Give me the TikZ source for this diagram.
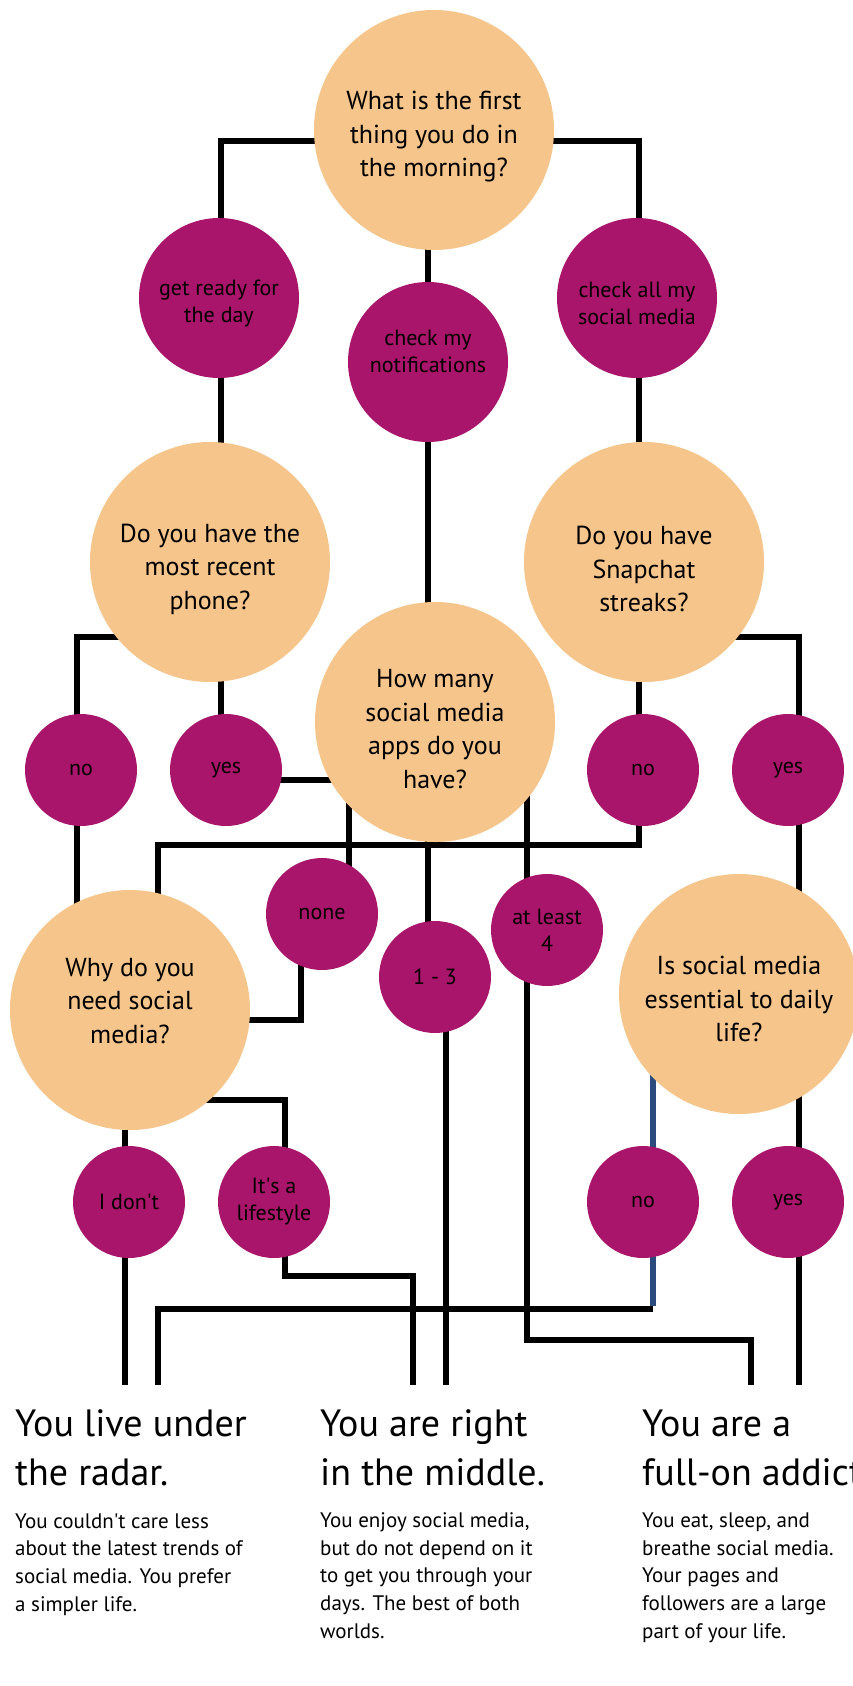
\documentclass[tikz,border=0pt]{standalone}
\usepackage{fontspec}
\setmainfont{PT Sans}
\usetikzlibrary{calc}

\definecolor{peach}{HTML}{F5C58B}
\definecolor{plum}{HTML}{A8156A}
\definecolor{navy}{HTML}{2B4A7E}

\pgfdeclarelayer{lines}
\pgfsetlayers{lines,main}

\tikzset{
  question/.style={circle,fill=peach,minimum size=240pt,inner sep=0pt},
  qtext/.style={align=center,inner sep=0pt,yshift=-7pt,
    font=\fontsize{26}{33.5}\selectfont},
  answer/.style={circle,fill=plum,minimum size=112pt,inner sep=0pt,align=center,
    font=\fontsize{22}{27}\selectfont},
  biganswer/.style={answer,minimum size=160pt},
  atext/.style={align=center,inner sep=0pt,font=\fontsize{22}{27}\selectfont},
  link/.style={line width=6pt},
  headline/.style={anchor=base west,align=left,inner sep=0pt,
    font=\fontsize{38}{48.5}\selectfont},
  blurb/.style={anchor=base west,align=left,inner sep=0pt,
    font=\fontsize{21}{27.6}\selectfont},
}
\newcommand{\apos}{\textquotesingle}

\begin{document}
\begin{tikzpicture}[x=1pt,y=-1pt]
\useasboundingbox (0,0) rectangle (853,1686);
% questions
\node[question,label={[qtext]center:{What is the first\\thing you do in\\the morning?}}] (q1) at (434,130) {};
\node[question,label={[qtext]center:{Do you have the\\most recent\\phone?}}] (q2) at (210,562) {};
\node[question,label={[qtext]center:{Do you have\\Snapchat\\streaks?}}] (q3) at (644,562) {};
\node[question,label={[qtext]center:{How many\\social media\\apps do you\\have?}}] (q4) at (435,722) {};
\node[question,label={[qtext,yshift=16pt]center:{Why do you\\need social\\media?}}] (q5) at (130,1010) {};
\node[question,label={[qtext,yshift=2pt]center:{Is social media\\essential to daily\\life?}}] (q6) at (739,994) {};
% answers
\node[biganswer,label={[atext,yshift=-5pt]center:{get ready for\\the day}}] (gr) at (219,298) {};
\node[biganswer,label={[atext,yshift=11pt]center:{check my\\notifications}}] (cm) at (428,362) {};
\node[biganswer,label={[atext,yshift=-5pt]center:{check all my\\social media}}] (ca) at (637,298) {};
\node[answer] (nl) at (81,770) {no};
\node[answer] (yl) at (226,770) {yes};
\node[answer] (nr) at (643,770) {no};
\node[answer] (yr) at (788,770) {yes};
\node[answer] (none) at (322,914) {none};
\node[answer] (ot) at (435,977) {1 - 3};
\node[answer] (al) at (547,930) {at least\\4};
\node[answer] (id) at (129,1202) {I don\apos t};
\node[answer] (ls) at (274,1202) {It\apos s a\\lifestyle};
\node[answer] (nb) at (643,1202) {no};
\node[answer] (yb) at (788,1202) {yes};
% results
\coordinate (radar1) at (125,1385);
\coordinate (radar2) at (158,1385);
\coordinate (middle1) at (413,1385);
\coordinate (middle2) at (446,1385);
\coordinate (addict1) at (751,1385);
\coordinate (addict2) at (799,1385);
\node[headline] (radar) at (15,1485) {You live under\\the radar.};
\node[blurb] (radartxt) at (15,1611) {You couldn\apos t care less\\about the latest trends of\\social media. You prefer\\a simpler life.};
\node[headline] (middle) at (320,1485) {You are right\\in the middle.};
\node[blurb] (middletxt) at (320,1638) {You enjoy social media,\\but do not depend on it\\to get you through your\\days. The best of both\\worlds.};
\node[headline] (addict) at (642,1485) {You are a\\full-on addict.};
\node[blurb] (addicttxt) at (642,1638) {You eat, sleep, and\\breathe social media.\\Your pages and\\followers are a large\\part of your life.};
% connectors
\begin{pgfonlayer}{lines}
\draw[link] ($(q1)+(0,11)$) -| ($(gr)+(2,0)$) -- ($(gr |- yl)+(2,0)$);
\draw[link] ($(q1)+(0,11)$) -| ($(ca)+(2,0)$) -- ($(ca |- nr)+(2,0)$) -- ++(0,75) -| ($(q5)+(28,0)$);
\draw[link] (cm |- q1) -- (cm |- ot);
\draw[link] ($(q2)+(0,75)$) -| ($(nl)+(-4,0)$) -- ($(nl |- q5)+(-4,0)$);
\draw[link] ($(yl)+(0,10)$) -- ($(yl -| q4)+(0,10)$);
\draw[link] ($(q3)+(0,75)$) -| ($(yr)+(11,0)$) -- (addict2);
\draw[link] ($(none |- q4)+(27,0)$) -- ($(none)+(27,0)$);
\draw[link] ($(al |- q4)+(-20,0)$) -- ($(al)+(-20,0)$) -- ++(0,410) -| (addict1);
\draw[link] ($(none)+(-21,0)$) |- ($(q5)+(0,10)$);
\draw[link] ($(q5)+(0,90)$) -| ($(ls)+(11,0)$) -- ++(0,74) -| (middle1);
\draw[link] (radar1 |- q5) -- (radar1);
\draw[link] (middle2 |- ot) -- (middle2);
\draw[link] ($(nb)+(10,107)$) -| (radar2);
\draw[link,navy] ($(nb |- q6)+(10,0)$) -- ($(nb)+(10,104)$);
\end{pgfonlayer}
\end{tikzpicture}
\end{document}
